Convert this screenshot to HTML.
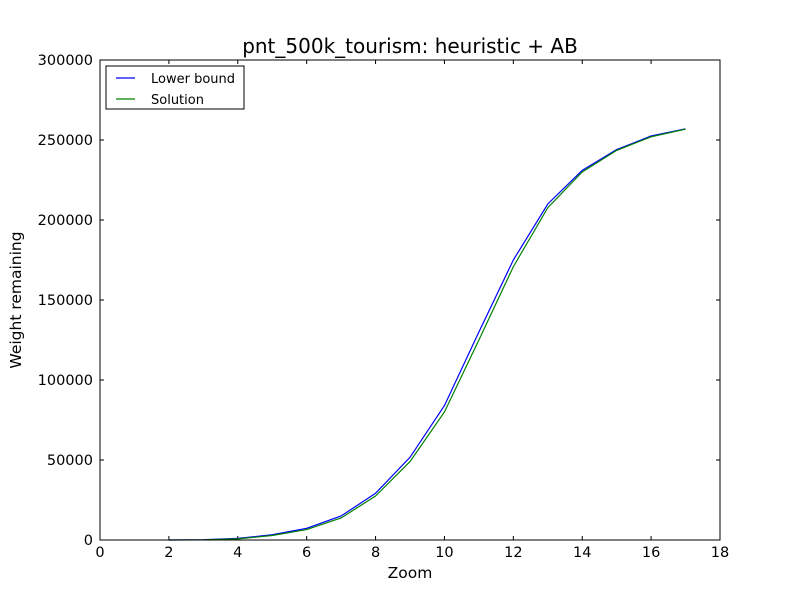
<!DOCTYPE html>
<html><head><meta charset="utf-8"><style>
body{margin:0;background:#fff;}
svg{display:block;font-family:"DejaVu Sans","Liberation Sans",sans-serif;}
</style></head><body>
<svg id="chart" width="800" height="600" viewBox="0 0 800 600" xmlns="http://www.w3.org/2000/svg">
<rect x="0" y="0" width="800" height="600" fill="#fff"/>
<text x="410" y="53" font-size="20" text-anchor="middle">pnt_500k_tourism: heuristic + AB</text>
<g id="ticks"></g>
<g id="series"></g>
<rect x="100" y="60" width="620" height="480" fill="none" stroke="#000" stroke-width="1"/>
<text x="410" y="578" font-size="15.5" text-anchor="middle">Zoom</text>
<text x="21" y="300" font-size="15.5" text-anchor="middle" transform="rotate(-90 21 300)">Weight remaining</text>
<g>
<rect x="106" y="66" width="138" height="43" fill="#fff" stroke="#000" stroke-width="1"/>
<line x1="116" y1="78" x2="135" y2="78" stroke="#0000ff" stroke-width="1.2"/>
<text x="151" y="83" font-size="13">Lower bound</text>
<line x1="116" y1="99" x2="135" y2="99" stroke="#008000" stroke-width="1.2"/>
<text x="151" y="104" font-size="13">Solution</text>
</g>
</svg>
<script>
const zooms=[2,3,4,5,6,7,8,9,10,11,12,13,14,15,16,17];
const lowerBound=[0,200,1000,3300,7300,15000,29200,51700,84000,130000,175000,210000,231000,244000,252500,257000];
const solution=[0,100,700,2800,6500,13750,27500,49000,80000,125000,170800,207700,230000,243500,252000,256800];
const xTicks=[0,2,4,6,8,10,12,14,16,18];
const yTicks=[0,50000,100000,150000,200000,250000,300000];
const X=v=>100+v/18*620, Y=v=>540-v/300000*480;
const NS="http://www.w3.org/2000/svg";
const tg=document.getElementById('ticks'), sg=document.getElementById('series');
function mk(tag,attrs,parent){const e=document.createElementNS(NS,tag);for(const k in attrs)e.setAttribute(k,attrs[k]);parent.appendChild(e);return e;}
xTicks.forEach(t=>{const x=X(t);
 let l=mk('line',{x1:x,y1:540,x2:x,y2:536,stroke:'#000'},tg);
 
 
 l=mk('line',{x1:x,y1:60,x2:x,y2:64,stroke:'#000'},tg);
 
 
 const tx=mk('text',{x:x,y:557,'font-size':14.5,'text-anchor':'middle'},tg);tx.textContent=t;
 
 });
yTicks.forEach(t=>{const y=Y(t);
 let l=mk('line',{x1:100,y1:y,x2:104,y2:y,stroke:'#000'},tg);
 
 
 l=mk('line',{x1:716,y1:y,x2:720,y2:y,stroke:'#000'},tg);
 
 
 const tx=mk('text',{x:93,y:y+5,'font-size':14.5,'text-anchor':'end'},tg);tx.textContent=t;
 
 });
function line(vals,color,name){const p=mk('polyline',{points:zooms.map((z,i)=>X(z)+','+Y(vals[i])).join(' '),fill:'none',stroke:color,'stroke-width':1.2},sg);
 
 }
line(lowerBound,'#0000ff','lower-bound-line');
line(solution,'#008000','solution-line');
</script>
</body></html>
